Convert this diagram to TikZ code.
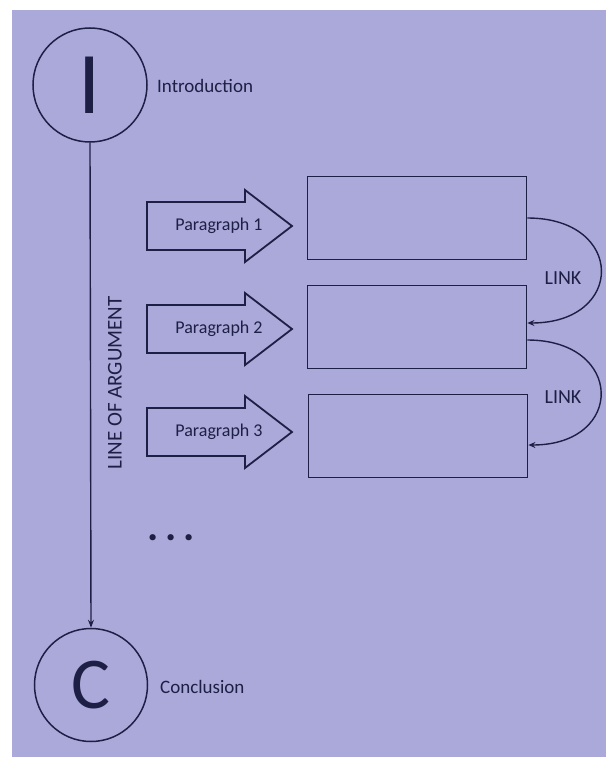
\documentclass[tikz,border=0pt]{standalone}
\usepackage{fontspec}
\setmainfont{Carlito}
\usetikzlibrary{arrows.meta,calc}
\definecolor{bg}{HTML}{ABA9DA}
\definecolor{ink}{HTML}{1E1F45}
\tikzset{
  lbl/.style={text=ink,font=\fontsize{19}{19}\selectfont,inner sep=0pt},
  bigcirc/.style={circle,draw=ink,line width=1.5pt,inner sep=0pt,text=ink},
  parabox/.style={draw=ink,line width=1.8pt,minimum width=219pt,minimum height=83pt,inner sep=0pt},
  blockarrow/.style={draw=ink,line width=1.8pt,line join=miter},
  linkarrow/.style={draw=ink,line width=1.4pt,-{Stealth[length=7pt,width=6pt]}},
}
\begin{document}
\begin{tikzpicture}[x=1pt,y=-1pt]
\useasboundingbox (0,0) rectangle (605,757);
\fill[white] (0,0) rectangle (610,762);
\fill[bg] (12,10) rectangle (610,762);

% circles
\node[bigcirc,minimum size=114pt,font=\fontsize{88}{88}\selectfont] (I) at (90,85) {I};
\node[lbl,anchor=west] (intro) at (157,86) {Introduction};
\node[bigcirc,minimum size=113pt,font=\fontsize{73}{73}\selectfont] (C) at (91,685) {C};
\node[lbl,anchor=west] (concl) at (160,687) {Conclusion};
\draw[draw=ink,line width=1.4pt,-{Stealth[length=8pt,width=6pt]}] (I.south) -- (C.north);
\node[lbl,font=\fontsize{21}{21}\selectfont,rotate=90] (loa) at (115,383) {LINE OF ARGUMENT};

% block arrows
\foreach \i/\y in {1/226,2/329,3/432}{
  \draw[blockarrow] (147,\y-24) -- (245,\y-24) -- (245,\y-36) -- (292,\y) -- (245,\y+36) -- (245,\y+24) -- (147,\y+24) -- cycle;
  \node[lbl,font=\fontsize{18}{18}\selectfont] (p\i) at (219,\y) {Paragraph \i};
}

% rectangles
\node[parabox] (r1) at (417,218) {};
\node[parabox] (r2) at (417,327) {};
\node[parabox] (r3) at (418,436) {};

% links
\coordinate (l1e) at ($(r2.east)+(0,-4)$);
\coordinate (l2s) at ($(r2.east)+(0,13)$);
\coordinate (l2e) at ($(r3.east)+(0,9)$);
\draw[linkarrow] (r1.east) .. controls +(98,0) and +(98,0) .. (l1e);
\draw[linkarrow] (l2s) .. controls +(97,0) and +(97,0) .. (l2e);
\node[lbl,font=\fontsize{20}{20}\selectfont] (link1) at (563,278) {LINK};
\node[lbl,font=\fontsize{20}{20}\selectfont] (link2) at (563,397) {LINK};

% dots
\node[lbl,font=\bfseries\fontsize{42}{42}\selectfont] (dots) at (171,538) {.\hspace{6.5pt}.\hspace{6.5pt}.};
\end{tikzpicture}
\end{document}
